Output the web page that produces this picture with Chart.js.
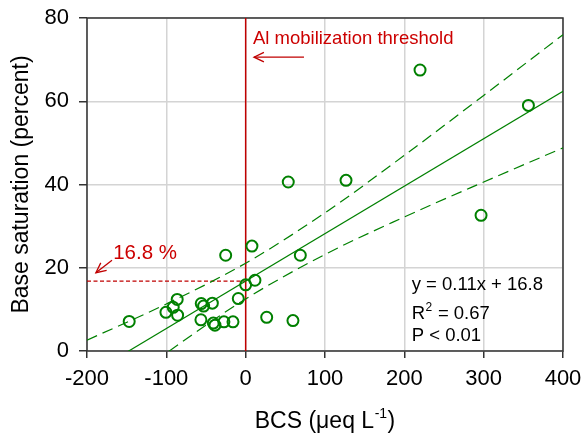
<!DOCTYPE html>
<html><head><meta charset="utf-8">
<script src="https://cdn.jsdelivr.net/npm/chart.js@4/dist/chart.umd.min.js"></script>
<style>html,body{margin:0;padding:0;background:#fff}</style>
</head><body>
<canvas id="c" width="584" height="438"></canvas>
<script>
// ---- data ----
const bcsValues = [-146.8,-100.5,-91.3,-86.3,-85.8,-56,-53,-42,-56.4,-40.8,-38.7,-27.4,-16,-25.2,7.9,-9.3,0,11.7,26.5,53.7,126.5,296.7,68.9,59.6,219.8,356.4];
const baseSaturation = [7.1,9.3,10.5,12.4,8.6,11.4,10.8,11.5,7.5,6.7,6.2,7.0,7.0,23.0,25.2,12.6,15.9,17.0,8.1,40.6,41.0,32.6,23.0,7.3,67.5,59.0];
const bandX = [-200,-100,0,100,200,300,400];
const upperBand = [2.6,11.3,21.1,33.2,47.0,61.4,76.0];
const lowerBand = [-14.6,-0.5,12.5,23.2,32.2,40.6,48.8];
const fitX = [-200,400];
const fitY = [-6.0,62.4];
const thresholdX = [0,0];
const thresholdY = [0,80];
const refX = [-200,0];
const refY = [16.8,16.8];
const xTicks = [-200,-100,0,100,200,300,400];
const yTicks = [0,20,40,60,80];

const GREEN = '#008000';
const RED = '#c00000';
const FONT = "'Liberation Sans', Arial, sans-serif";

const zip = (xs, ys) => xs.map((x,i)=>({x, y: ys[i]}));

const annotate = {
  id: 'annotate',
  beforeDatasetsDraw(chart) {
    const {ctx, chartArea: a} = chart;
    ctx.save();
    ctx.strokeStyle = '#333';
    ctx.lineWidth = 1.5;
    ctx.strokeRect(a.left, a.top, a.right - a.left, a.bottom - a.top);
    ctx.restore();
  },
  afterDatasetsDraw(chart) {
    const {ctx, chartArea: a, scales: {x, y}} = chart;
    const X = v => x.getPixelForValue(v), Y = v => y.getPixelForValue(v);
    ctx.save();
    function arrow(x1,y1,x2,y2){
      ctx.beginPath(); ctx.moveTo(x1,y1); ctx.lineTo(x2,y2); ctx.stroke();
      const ang = Math.atan2(y2-y1, x2-x1), L = 11, w = 0.45;
      ctx.beginPath();
      ctx.moveTo(x2 - L*Math.cos(ang-w), y2 - L*Math.sin(ang-w));
      ctx.lineTo(x2,y2);
      ctx.lineTo(x2 - L*Math.cos(ang+w), y2 - L*Math.sin(ang+w));
      ctx.stroke();
    }
    ctx.strokeStyle = RED; ctx.fillStyle = '#cc0000'; ctx.lineWidth = 1.3;
    ctx.font = '18.5px ' + FONT; ctx.textBaseline = 'alphabetic'; ctx.textAlign = 'left';
    ctx.fillText('Al mobilization threshold', X(9.2), Y(73.8));
    arrow(X(73.5), Y(70.6), X(10.5), Y(70.6));
    ctx.font = '20.5px ' + FONT;
    ctx.fillText('16.8 %', X(-167), Y(22.2));
    arrow(X(-168.5), Y(21.8), X(-188.8), Y(18.8));
    // equation block
    ctx.fillStyle = '#000';
    ctx.font = '18.5px ' + FONT;
    const ex = X(209.3);
    ctx.fillText('y = 0.11x + 16.8', ex, Y(14.6));
    ctx.fillText('R', ex, Y(7.6));
    const rw = ctx.measureText('R').width;
    ctx.font = '12px ' + FONT;
    ctx.fillText('2', ex + rw + 0.5, Y(7.6) - 8);
    const sw = ctx.measureText('2').width;
    ctx.font = '18.5px ' + FONT;
    ctx.fillText(' = 0.67', ex + rw + sw + 1, Y(7.6));
    ctx.fillText('P < 0.01', ex, Y(2.45));
    // axis titles
    ctx.font = '23px ' + FONT;
    const p1 = 'BCS (\u03BCeq L', p2 = ')';
    const w1 = ctx.measureText(p1).width, w3 = ctx.measureText(p2).width;
    ctx.font = '14px ' + FONT;
    const sup = '-1', w2 = ctx.measureText(sup).width;
    const total = w1 + w2 + w3 + 1;
    let sx = (a.left + a.right)/2 - total/2;
    const by = 428;
    ctx.font = '23px ' + FONT; ctx.fillText(p1, sx, by);
    ctx.font = '14px ' + FONT; ctx.fillText(sup, sx + w1 + 0.5, by - 10);
    ctx.font = '23px ' + FONT; ctx.fillText(p2, sx + w1 + w2 + 1, by);
    ctx.translate(22, (a.top + a.bottom)/2);
    ctx.rotate(-Math.PI/2);
    ctx.textAlign = 'center'; ctx.textBaseline = 'middle';
    ctx.fillText('Base saturation (percent)', 0, 0);
    ctx.restore();
  }
};

new Chart(document.getElementById('c'), {
  type: 'scatter',
  data: {
    datasets: [
      { data: zip(thresholdX, thresholdY), showLine: true, borderColor: RED, borderWidth: 1.5, pointRadius: 0, order: 5 },
      { data: zip(refX, refY), showLine: true, borderColor: RED, borderWidth: 1.2, borderDash: [4,2.5], pointRadius: 0, order: 5 },
      { data: zip(bandX, upperBand), showLine: true, borderColor: GREEN, borderWidth: 1.2, borderDash: [11,6], pointRadius: 0, cubicInterpolationMode: 'monotone', order: 4 },
      { data: zip(bandX, lowerBand), showLine: true, borderColor: GREEN, borderWidth: 1.2, borderDash: [11,6], pointRadius: 0, cubicInterpolationMode: 'monotone', order: 4 },
      { data: zip(fitX, fitY), showLine: true, borderColor: GREEN, borderWidth: 1.2, pointRadius: 0, order: 3 },
      { data: zip(bcsValues, baseSaturation), showLine: false, borderColor: GREEN, backgroundColor: 'rgba(0,0,0,0)', borderWidth: 2, pointRadius: 5.5, order: 1 }
    ]
  },
  options: {
    responsive: false, animation: false, devicePixelRatio: 1,
    layout: { padding: { top: 18, right: 21, left: 0, bottom: 0 } },
    plugins: { legend: { display: false }, tooltip: { enabled: false } },
    scales: {
      x: {
        type: 'linear', min: xTicks[0], max: xTicks[xTicks.length-1],
        afterBuildTicks: s => { s.ticks = xTicks.map(v => ({value: v})); },
        afterFit: s => { s.height = 87; s.paddingLeft = 0; s.paddingRight = 0; },
        grid: { color: '#d4d4d4', lineWidth: 1.5, tickLength: 7, tickColor: '#333', tickWidth: 1.5 },
        border: { display: false },
        ticks: { color: '#000', font: { family: FONT, size: 22 }, padding: 8, maxRotation: 0 }
      },
      y: {
        type: 'linear', min: yTicks[0], max: yTicks[yTicks.length-1],
        afterBuildTicks: s => { s.ticks = yTicks.map(v => ({value: v})); },
        afterFit: s => { s.width = 87; s.paddingTop = 0; s.paddingBottom = 0; },
        grid: { color: '#d4d4d4', lineWidth: 1.5, tickLength: 8, tickColor: '#333', tickWidth: 1.5 },
        border: { display: false },
        ticks: { color: '#000', font: { family: FONT, size: 22 }, padding: 10 }
      }
    }
  },
  plugins: [annotate]
});
</script>
</body></html>
